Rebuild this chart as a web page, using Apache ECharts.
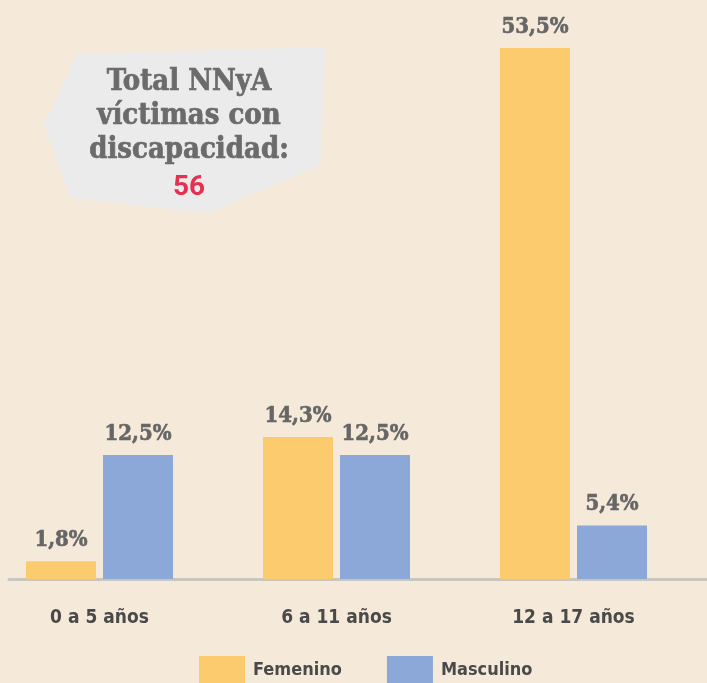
<!DOCTYPE html>
<html>
<head>
<meta charset="utf-8">
<script src="https://cdn.jsdelivr.net/npm/echarts@6/dist/echarts.min.js"></script>
<style>
  html, body { margin: 0; padding: 0; background: #f5eada; }
  #chart { width: 707px; height: 683px; }
</style>
</head>
<body>
<div id="chart"></div>
<script>
const categories = ["0 a 5 años", "6 a 11 años", "12 a 17 años"];
const femenino = [1.8, 14.3, 53.5];
const masculino = [12.5, 12.5, 5.4];
const seriesNames = ["Femenino", "Masculino"];
const calloutLines = ["Total NNyA", "víctimas con", "discapacidad:"];
const totalVictimas = 56;

const SLAB = "'DejaVu Serif Condensed', 'DejaVu Serif', serif";
const NARROW = "'Liberation Sans Narrow', 'DejaVu Sans Condensed', sans-serif";

const fmt = v => String(v.toFixed(1)).replace(".", ",") + "%";

const valueLabel = {
  show: true,
  position: "top",
  distance: 10,
  formatter: p => fmt(p.value),
  fontFamily: SLAB,
  fontWeight: "bold",
  fontSize: 22,
  color: "#666666",
  textBorderColor: "#666666",
  textBorderWidth: 0.6
};

const chart = echarts.init(document.getElementById("chart"));
chart.setOption({
  backgroundColor: "#f5eada",
  animation: false,
  grid: [
    { left: -19, right: 15, top: 33, bottom: 104, outerBoundsMode: "none" },
    { left: 9, right: 0, top: 33, bottom: 104, outerBoundsMode: "none" }
  ],
  legend: {
    left: 199,
    top: 656,
    padding: 0,
    itemWidth: 46,
    itemHeight: 28,
    itemGap: 45,
    icon: "rect",
    data: seriesNames,
    textStyle: {
      fontFamily: NARROW,
      fontWeight: "bold",
      fontSize: 18,
      color: "#4a4a4a",
      padding: [0, 0, 0, 3]
    }
  },
  xAxis: [
    {
      type: "category",
      gridIndex: 0,
      data: categories,
      axisLine: { show: false },
      axisTick: { show: false },
      axisLabel: {
        margin: 30,
        fontFamily: NARROW,
        fontWeight: "bold",
        fontSize: 19,
        color: "#4a4a4a"
      }
    },
    {
      type: "category",
      gridIndex: 1,
      data: [""],
      axisLine: { show: true, lineStyle: { color: "#c9c5bf", width: 3 } },
      axisTick: { show: false },
      axisLabel: { show: false }
    }
  ],
  yAxis: [
    { type: "value", gridIndex: 0, min: 0, max: 55, show: false },
    { type: "value", gridIndex: 1, min: 0, max: 55, show: false }
  ],
  series: [
    {
      name: seriesNames[0],
      type: "bar",
      data: femenino,
      barWidth: 70,
      barGap: "10%",
      itemStyle: { color: "#fbcb6e" },
      label: valueLabel,
      z: 3
    },
    {
      name: seriesNames[1],
      type: "bar",
      data: masculino,
      barWidth: 70,
      barGap: "10%",
      itemStyle: { color: "#8ca8d8" },
      label: valueLabel,
      z: 3
    }
  ],
  graphic: [
    {
      type: "polygon",
      z: 1,
      shape: { points: [[77, 54], [326, 47], [320, 165], [209, 213], [70, 198], [44, 125]] },
      style: { fill: "#ebebeb" }
    },
    {
      type: "text",
      z: 2,
      style: {
        x: 189,
        y: 65,
        align: "center",
        verticalAlign: "top",
        text: calloutLines.join("\n"),
        font: "bold 29px " + SLAB,
        lineHeight: 34,
        fill: "#6b6b6b",
        stroke: "#6b6b6b",
        lineWidth: 0.7
      }
    },
    {
      type: "text",
      z: 2,
      style: {
        x: 189,
        y: 174,
        align: "center",
        verticalAlign: "top",
        text: String(totalVictimas),
        font: "bold 28px Roboto, sans-serif",
        fill: "#e5304f"
      }
    }
  ]
});
</script>
</body>
</html>
